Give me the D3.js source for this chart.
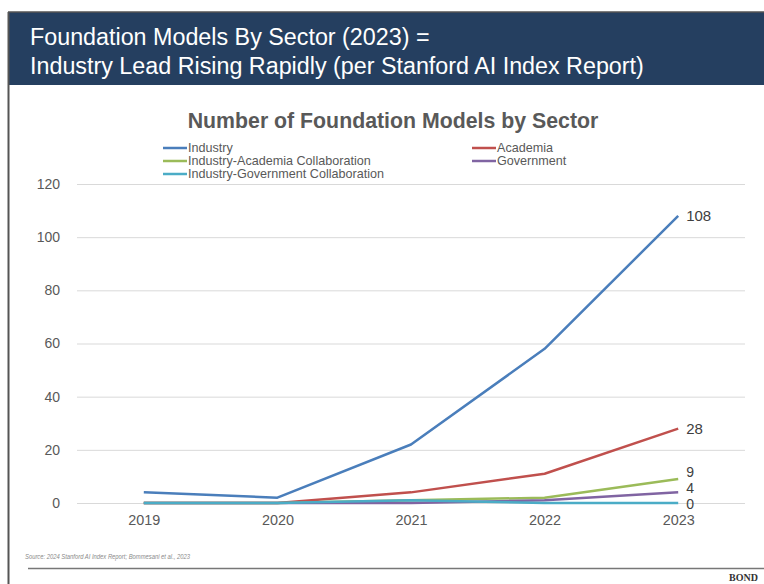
<!DOCTYPE html>
<html>
<head>
<meta charset="utf-8">
<script src="https://cdn.jsdelivr.net/npm/d3@7"></script>
<style>
  body { margin: 0; background: #fff; }
  svg { display: block; font-family: "Liberation Sans", Arial, sans-serif; }
</style>
</head>
<body>
<svg width="764" height="584"></svg>
<script>
var years = ["2019", "2020", "2021", "2022", "2023"];
var seriesNames = ["Industry", "Academia", "Industry-Academia Collaboration", "Government", "Industry-Government Collaboration"];
var industry = [4, 2, 22, 58, 108];
var academia = [0, 0, 4, 11, 28];
var indAcademia = [0, 0, 1, 2, 9];
var government = [0, 0, 0, 1, 4];
var indGovernment = [0, 0, 1, 0, 0];
var yTicks = [0, 20, 40, 60, 80, 100, 120];
var colors = ["#4a7ebb", "#c0504d", "#9bbb59", "#8064a2", "#4bacc6"];
// label nudges so the small end labels don't collide
var labelNudge = [0, 0, -7, -4.5, 1];

var svg = d3.select("svg");

// frame + header
svg.append("rect").attr("x", 8).attr("y", 12).attr("width", 756).attr("height", 73).attr("fill", "#253f60");
svg.append("line").attr("x1", 8).attr("x2", 764).attr("y1", 12).attr("y2", 12).attr("stroke", "#555").attr("stroke-width", 1.5);
svg.append("line").attr("x1", 8.5).attr("x2", 8.5).attr("y1", 12).attr("y2", 584).attr("stroke", "#555").attr("stroke-width", 2);

var header = svg.append("text")
  .attr("fill", "#fff")
  .style("font-family", "'Liberation Sans Narrow', 'Arial Narrow', sans-serif")
  .style("font-size", "23.3px");
header.append("tspan").attr("x", 30).attr("y", 45).text("Foundation Models By Sector (2023) =");
header.append("tspan").attr("x", 30).attr("y", 74).text("Industry Lead Rising Rapidly (per Stanford AI Index Report)");

var margin = {top: 184, left: 77, right: 19, bottom: 81},
  width = 764 - margin.left - margin.right,
  height = 584 - margin.top - margin.bottom;

var g = svg.append("g").attr("transform", "translate(" + margin.left + "," + margin.top + ")");

var x = d3.scalePoint().domain(years).range([0, width]).padding(0.5);
var y = d3.scaleLinear().domain([0, 120]).range([height, 0]);

// chart title
svg.append("text")
  .attr("x", 393).attr("y", 128)
  .attr("text-anchor", "middle")
  .attr("fill", "#595959")
  .style("font-size", "21.3px").style("font-weight", "bold")
  .text("Number of Foundation Models by Sector");

// gridlines + y labels
g.append("g")
  .call(d3.axisLeft(y).tickValues(yTicks).tickSize(-width).tickPadding(17))
  .call(function(s) {
    s.select(".domain").remove();
    s.selectAll(".tick line").attr("stroke", "#d9d9d9");
    s.selectAll(".tick text").attr("fill", "#595959").style("font-size", "14px")
      .style("font-family", "'Liberation Sans', Arial, sans-serif");
  });

g.append("g")
  .attr("transform", "translate(0," + height + ")")
  .call(d3.axisBottom(x).tickSize(0).tickPadding(12))
  .call(function(s) {
    s.select(".domain").remove();
    s.selectAll(".tick text").attr("fill", "#595959").style("font-size", "14.4px")
      .style("font-family", "'Liberation Sans', Arial, sans-serif");
  });

var series = [industry, academia, indAcademia, government, indGovernment].map(function(v, i) {
  return {name: seriesNames[i], color: colors[i], values: v};
});

var line = d3.line()
  .x(function(d, i) { return x(years[i]); })
  .y(function(d) { return y(d); });

g.selectAll(".series")
  .data(series)
  .enter().append("path")
  .attr("fill", "none")
  .attr("stroke", function(d) { return d.color; })
  .attr("stroke-width", 2.5)
  .attr("stroke-linejoin", "round")
  .attr("d", function(d) { return line(d.values); });

// end labels
g.selectAll(".endlabel")
  .data(series)
  .enter().append("text")
  .attr("x", x("2023") + 8)
  .attr("y", function(d, i) { return y(d.values[d.values.length - 1]) + labelNudge[i]; })
  .attr("dy", "0.35em")
  .attr("fill", "#404040")
  .style("font-size", function(d, i) { return i < 2 ? "15px" : "14px"; })
  .text(function(d) { return d.values[d.values.length - 1]; });

// legend
var legend = svg.append("g").style("font-size", "12.6px");
var legendPos = [[163, 148], [472, 148], [163, 161], [472, 161], [163, 174]];
var item = legend.selectAll("g")
  .data(series)
  .enter().append("g")
  .attr("transform", function(d, i) { return "translate(" + legendPos[i][0] + "," + legendPos[i][1] + ")"; });
item.append("line").attr("x1", 0).attr("x2", 24).attr("stroke", function(d) { return d.color; }).attr("stroke-width", 2.5);
item.append("text").attr("x", 25).attr("dy", "0.35em").attr("fill", "#595959").text(function(d) { return d.name; });

// footer
svg.append("text")
  .attr("x", 25).attr("y", 559)
  .attr("fill", "#8a8a8a")
  .attr("textLength", 165).attr("lengthAdjust", "spacingAndGlyphs")
  .style("font-size", "6.5px").style("font-style", "italic")
  .text("Source: 2024 Stanford AI Index Report; Bommesani et al., 2023");
svg.append("line").attr("x1", 28).attr("x2", 764).attr("y1", 568.5).attr("y2", 568.5).attr("stroke", "#777").attr("stroke-width", 1.5);
svg.append("text")
  .attr("x", 758).attr("y", 581)
  .attr("text-anchor", "end")
  .attr("fill", "#333")
  .style("font-family", "'Liberation Serif', 'Times New Roman', serif")
  .style("font-size", "10px").style("font-weight", "bold")
  .text("BOND");
</script>
</body>
</html>
